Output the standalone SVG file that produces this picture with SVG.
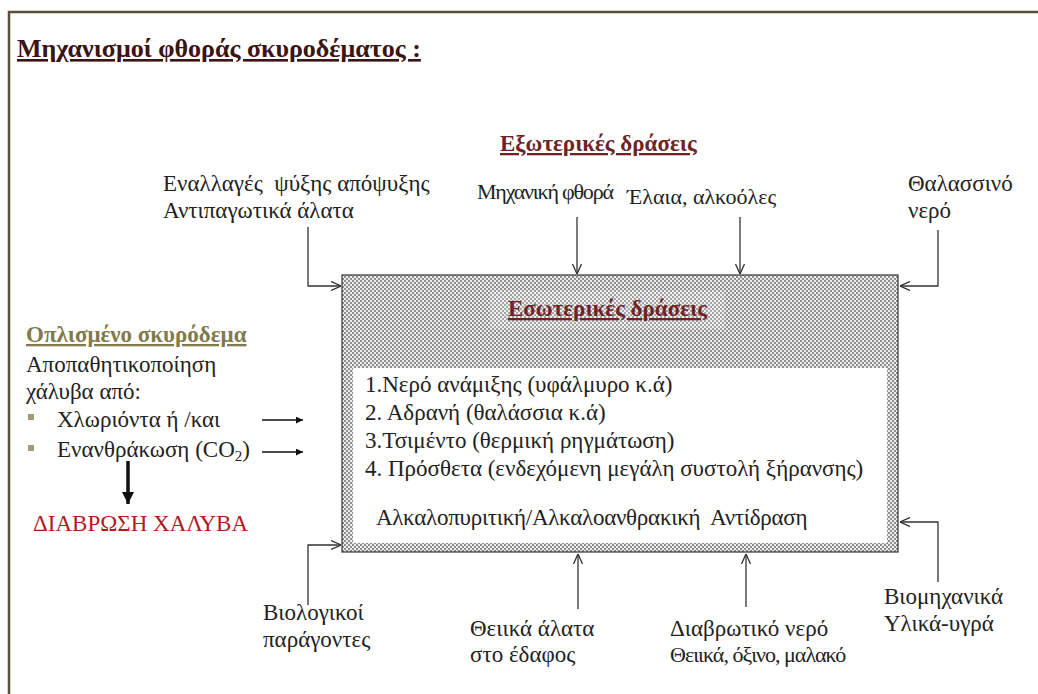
<svg xmlns="http://www.w3.org/2000/svg" width="1038" height="694" viewBox="0 0 1038 694" font-family="'Liberation Serif', 'DejaVu Serif', serif">
<defs>
<pattern id="dots" width="4" height="4" patternUnits="userSpaceOnUse">
<rect width="4" height="4" fill="#ececec"/>
<rect x="0" y="0" width="2" height="2" fill="#8f8f8f"/>
<rect x="2" y="2" width="2" height="2" fill="#8f8f8f"/>
</pattern>
<marker id="open" viewBox="0 0 10 10" refX="10" refY="5" markerWidth="10" markerHeight="10" markerUnits="userSpaceOnUse" orient="auto">
<path d="M0,0.5 L10,5 L0,9.5" fill="none" stroke="#333" stroke-width="1.3"/>
</marker>
<marker id="solid" viewBox="0 0 10 10" refX="10" refY="5" markerWidth="8" markerHeight="7" markerUnits="userSpaceOnUse" orient="auto">
<path d="M0,0 L10,5 L0,10 Z" fill="#111"/>
</marker>
<marker id="thick" viewBox="0 0 10 10" refX="10" refY="5" markerWidth="12" markerHeight="12" markerUnits="userSpaceOnUse" orient="auto">
<path d="M0,0 L10,5 L0,10 Z" fill="#111"/>
</marker>
</defs>
<style>
text { font-family: "Liberation Serif", "DejaVu Serif", serif; font-size: 23px; fill: #222; white-space: pre; }
.title { font-weight: bold; font-size: 26px; fill: #3b1414; text-decoration: underline; }
.hd { font-weight: bold; font-size: 23px; fill: #6e2424; text-decoration: underline; }
.hd2 { font-weight: bold; font-size: 23px; fill: #807a4c; text-decoration: underline; }
.red { fill: #b5171c; }
.sm { font-size: 22px; }
.conn { fill: none; stroke: #333; stroke-width: 1.3; }
.frame { fill: none; stroke: #5a5038; stroke-width: 2.5; }
.bullet { fill: #a09c78; }
</style>
<rect width="1038" height="694" fill="#ffffff"/>
<path class="frame" d="M9,694 V12 H1038"/>

<g id="title"><text class="title" x="17" y="57">Μηχανισμοί φθοράς σκυροδέματος :</text></g>
<g id="external-heading"><text class="hd" x="500" y="151">Εξωτερικές δράσεις</text></g>

<g id="freeze-thaw">
<text x="163" y="191" xml:space="preserve">Εναλλαγές  ψύξης απόψυξης</text>
<text x="163" y="218">Αντιπαγωτικά άλατα</text>
</g>
<g id="mechanical"><text class="sm" x="477" y="199" letter-spacing="-1.2">Μηχανική φθορά</text></g>
<g id="oils"><text class="sm" x="627" y="204">Έλαια, αλκοόλες</text></g>
<g id="seawater">
<text x="908" y="191" font-size="24">Θαλασσινό</text>
<text x="908" y="218" font-size="24">νερό</text>
</g>

<g id="concrete-box">
<rect x="342" y="275" width="556" height="277" fill="url(#dots)" stroke="#333" stroke-width="1.2"/>
<rect x="490" y="291" width="235" height="38" fill="#ffffff" opacity="0.2"/>
<rect x="353" y="368" width="534" height="175" fill="#ffffff"/>
<text class="hd" x="508" y="316">Εσωτερικές δράσεις</text>
<text x="365" y="392">1.Νερό ανάμιξης (υφάλμυρο κ.ά)</text>
<text x="365" y="420">2. Αδρανή (θαλάσσια κ.ά)</text>
<text x="365" y="448">3.Τσιμέντο (θερμική ρηγμάτωση)</text>
<text x="365" y="476">4. Πρόσθετα (ενδεχόμενη μεγάλη συστολή ξήρανσης)</text>
<text x="376" y="525" xml:space="preserve" letter-spacing="-0.25">Αλκαλοπυριτική/Αλκαλοανθρακική  Αντίδραση</text>
</g>

<g id="reinforced">
<text class="hd2" x="26" y="342">Οπλισμένο σκυρόδεμα</text>
<text x="26" y="372">Αποπαθητικοποίηση</text>
<text x="26" y="399">χάλυβα από:</text>
<rect class="bullet" x="28" y="414" width="6" height="6"/>
<text x="57" y="427">Χλωριόντα ή /και</text>
<rect class="bullet" x="28" y="445" width="6" height="6"/>
<text x="57" y="457">Ενανθράκωση (CO<tspan font-size="15" dy="4">2</tspan><tspan dy="-4">)</tspan></text>
</g>
<g id="corrosion"><text class="red" x="33" y="531">ΔΙΑΒΡΩΣΗ ΧΑΛΥΒΑ</text></g>

<g id="biological">
<text x="263" y="620">Βιολογικοί</text>
<text x="263" y="647">παράγοντες</text>
</g>
<g id="sulfates">
<text x="470" y="636">Θειικά άλατα</text>
<text x="470" y="662">στο έδαφος</text>
</g>
<g id="corrosive-water">
<text x="670" y="636">Διαβρωτικό νερό</text>
<text class="sm" x="670" y="662" letter-spacing="-1">Θειικά, όξινο, μαλακό</text>
</g>
<g id="industrial">
<text x="884" y="604">Βιομηχανικά</text>
<text x="884" y="631">Υλικά-υγρά</text>
</g>

<g id="connectors">
<path class="conn" marker-end="url(#open)" d="M308,227 V286 H341"/>
<path class="conn" marker-end="url(#open)" d="M577,217 V274"/>
<path class="conn" marker-end="url(#open)" d="M740,217 V274"/>
<path class="conn" marker-end="url(#open)" d="M938,230 V286 H900"/>
<path class="conn" marker-end="url(#open)" d="M308,605 V545 H341"/>
<path class="conn" marker-end="url(#open)" d="M578,609 V554"/>
<path class="conn" marker-end="url(#open)" d="M746,607 V554"/>
<path class="conn" marker-end="url(#open)" d="M938,582 V522 H900"/>
<path fill="none" stroke="#111" stroke-width="1.3" marker-end="url(#solid)" d="M262,420 H303"/>
<path fill="none" stroke="#111" stroke-width="1.3" marker-end="url(#solid)" d="M262,452 H303"/>
<path fill="none" stroke="#111" stroke-width="3.5" marker-end="url(#thick)" d="M128,461 V504"/>
</g>
</svg>
